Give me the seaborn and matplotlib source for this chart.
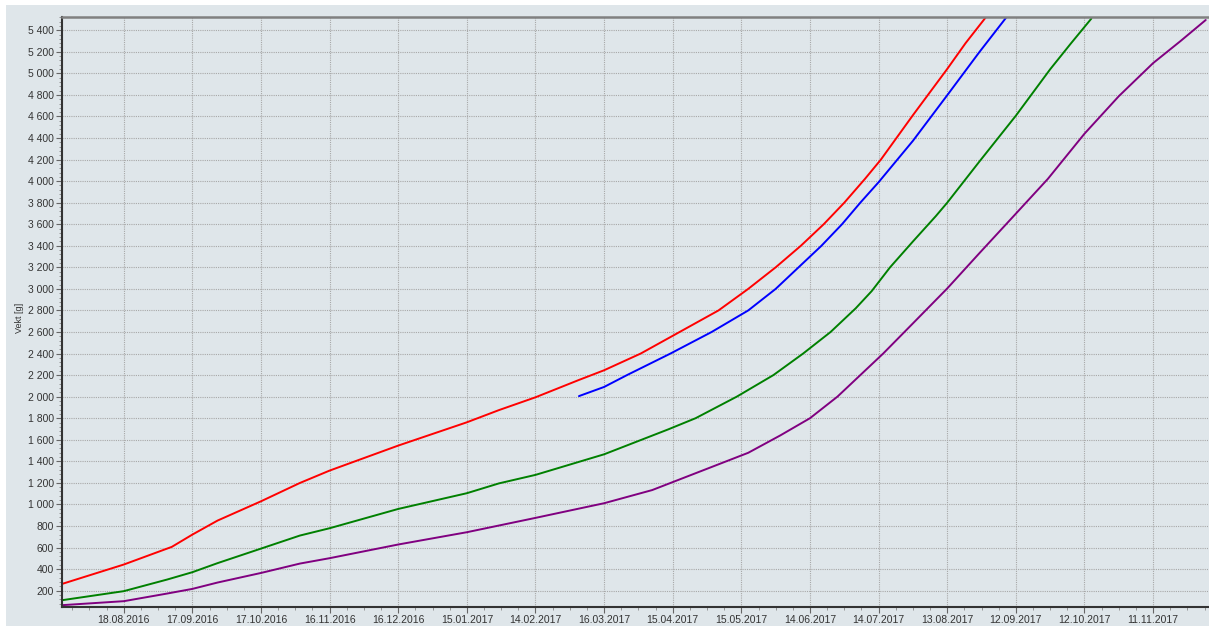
import pandas as pd
import numpy as np
import seaborn as sns
import matplotlib.pyplot as plt
import matplotlib.dates as mdates
from matplotlib.ticker import FuncFormatter, MultipleLocator, AutoMinorLocator
from matplotlib.patches import Rectangle

# Growth curves (date, weight in grams)
red_dates = ['2016-07-22', '2016-08-18', '2016-09-08', '2016-09-17', '2016-09-28',
             '2016-10-17', '2016-11-03', '2016-11-16', '2016-12-16', '2017-01-15',
             '2017-01-29', '2017-02-14', '2017-03-05', '2017-03-16', '2017-04-01',
             '2017-04-18', '2017-05-05', '2017-05-18', '2017-05-30', '2017-06-10',
             '2017-06-20', '2017-06-29', '2017-07-08', '2017-07-15', '2017-07-29',
             '2017-08-13', '2017-08-21', '2017-08-30']
red_vals = [262, 442, 606, 720, 850, 1029, 1199, 1314, 1546, 1762, 1875, 1994,
            2155, 2245, 2400, 2600, 2800, 3000, 3200, 3400, 3600, 3800, 4020,
            4200, 4612, 5041, 5280, 5524]

blue_dates = ['2017-03-05', '2017-03-16', '2017-03-26', '2017-04-14', '2017-05-02',
              '2017-05-18', '2017-05-30', '2017-06-09', '2017-06-19', '2017-06-28',
              '2017-07-06', '2017-07-14', '2017-07-29', '2017-08-13', '2017-08-27',
              '2017-09-08']
blue_vals = [2005, 2090, 2200, 2400, 2600, 2800, 3000, 3200, 3400, 3600, 3800,
             3990, 4374, 4797, 5196, 5524]

green_dates = ['2016-07-22', '2016-08-18', '2016-09-06', '2016-09-17', '2016-09-28',
               '2016-10-17', '2016-11-03', '2016-11-16', '2016-12-16', '2017-01-15',
               '2017-01-29', '2017-02-14', '2017-03-16', '2017-04-13', '2017-04-25',
               '2017-05-13', '2017-05-29', '2017-06-11', '2017-06-23', '2017-07-04',
               '2017-07-11', '2017-07-19', '2017-07-29', '2017-08-08', '2017-08-13',
               '2017-08-27', '2017-09-12', '2017-09-27', '2017-10-06', '2017-10-15']
green_vals = [111, 195, 303, 371, 455, 590, 711, 779, 958, 1104, 1195, 1274, 1465,
              1696, 1800, 2000, 2200, 2400, 2600, 2820, 2980, 3200, 3440, 3675,
              3800, 4180, 4607, 5038, 5276, 5508]

purple_dates = ['2016-07-22', '2016-08-18', '2016-09-06', '2016-09-17', '2016-09-28',
                '2016-10-17', '2016-11-03', '2016-11-16', '2016-12-16', '2017-01-15',
                '2017-02-14', '2017-03-16', '2017-04-06', '2017-05-18', '2017-06-01',
                '2017-06-14', '2017-06-26', '2017-07-06', '2017-07-16', '2017-07-29',
                '2017-08-13', '2017-08-27', '2017-09-11', '2017-09-26', '2017-10-12',
                '2017-10-27', '2017-11-11', '2017-11-23', '2017-12-04']
purple_vals = [65, 102, 173, 216, 275, 364, 451, 501, 628, 742, 875, 1011, 1133,
               1479, 1640, 1800, 2000, 2200, 2400, 2680, 3004, 3330, 3675, 4021,
               4440, 4788, 5095, 5300, 5495]

series_names = ['red', 'blue', 'green', 'purple']
series_colors = ['#ff0000', '#0000ff', '#008000', '#800080']

frames = []
for name, d, v in zip(series_names,
                      [red_dates, blue_dates, green_dates, purple_dates],
                      [red_vals, blue_vals, green_vals, purple_vals]):
    frames.append(pd.DataFrame({'date': pd.to_datetime(d), 'vekt': v, 'serie': name}))
df = pd.concat(frames, ignore_index=True)

bg = '#dfe6ea'
sns.set_theme(style='ticks')
plt.rcParams['font.family'] = ['Liberation Sans', 'DejaVu Sans']

fig = plt.figure(figsize=(12.09, 6.26), dpi=100, facecolor='white')
fig.patches.append(Rectangle((6 / 1209, 0), 1, 1 - 5 / 626, transform=fig.transFigure,
                             facecolor=bg, edgecolor='none', zorder=-10))
ax = fig.add_axes([62 / 1209, 1 - 607 / 626, 1146 / 1209, 590 / 626])
ax.set_facecolor(bg)

sns.lineplot(data=df, x='date', y='vekt', hue='serie', hue_order=series_names,
             palette=series_colors, linewidth=1.4, legend=False, ax=ax)

# Axis limits and ticks
ax.set_xlim(pd.Timestamp('2016-07-22'), pd.Timestamp('2017-12-05'))
ax.set_ylim(48, 5523)
xticks = pd.date_range('2016-08-18', periods=16, freq='30D')
ax.set_xticks(xticks)
ax.xaxis.set_major_formatter(mdates.DateFormatter('%d.%m.%Y'))
ax.xaxis.set_minor_locator(AutoMinorLocator(4))
ax.yaxis.set_major_locator(MultipleLocator(200))
ax.yaxis.set_minor_locator(MultipleLocator(40))
ax.yaxis.set_major_formatter(FuncFormatter(lambda v, p: f'{int(v):,}'.replace(',', ' ')))

ax.tick_params(axis='both', which='major', labelsize=7.5, labelcolor='#333333',
               color='#666666', length=4, width=0.8, pad=2)
ax.tick_params(axis='both', which='minor', color='#888888', length=2.5, width=0.6)

ax.grid(True, which='major', color='#a8a8a8', linestyle=(0, (1, 1)), linewidth=0.8)

for side in ['left', 'bottom']:
    ax.spines[side].set_color('#333333')
    ax.spines[side].set_linewidth(1.5)
ax.spines['top'].set_color('#808080')
ax.spines['top'].set_linewidth(1.8)
ax.spines['right'].set_visible(False)

ax.set_xlabel('')
ax.set_ylabel('Vekt [g]', fontsize=6.5, color='#333333')
ax.yaxis.set_label_coords(-0.033, 0.49)

fig.savefig('out.png', dpi=100, facecolor=fig.get_facecolor())
